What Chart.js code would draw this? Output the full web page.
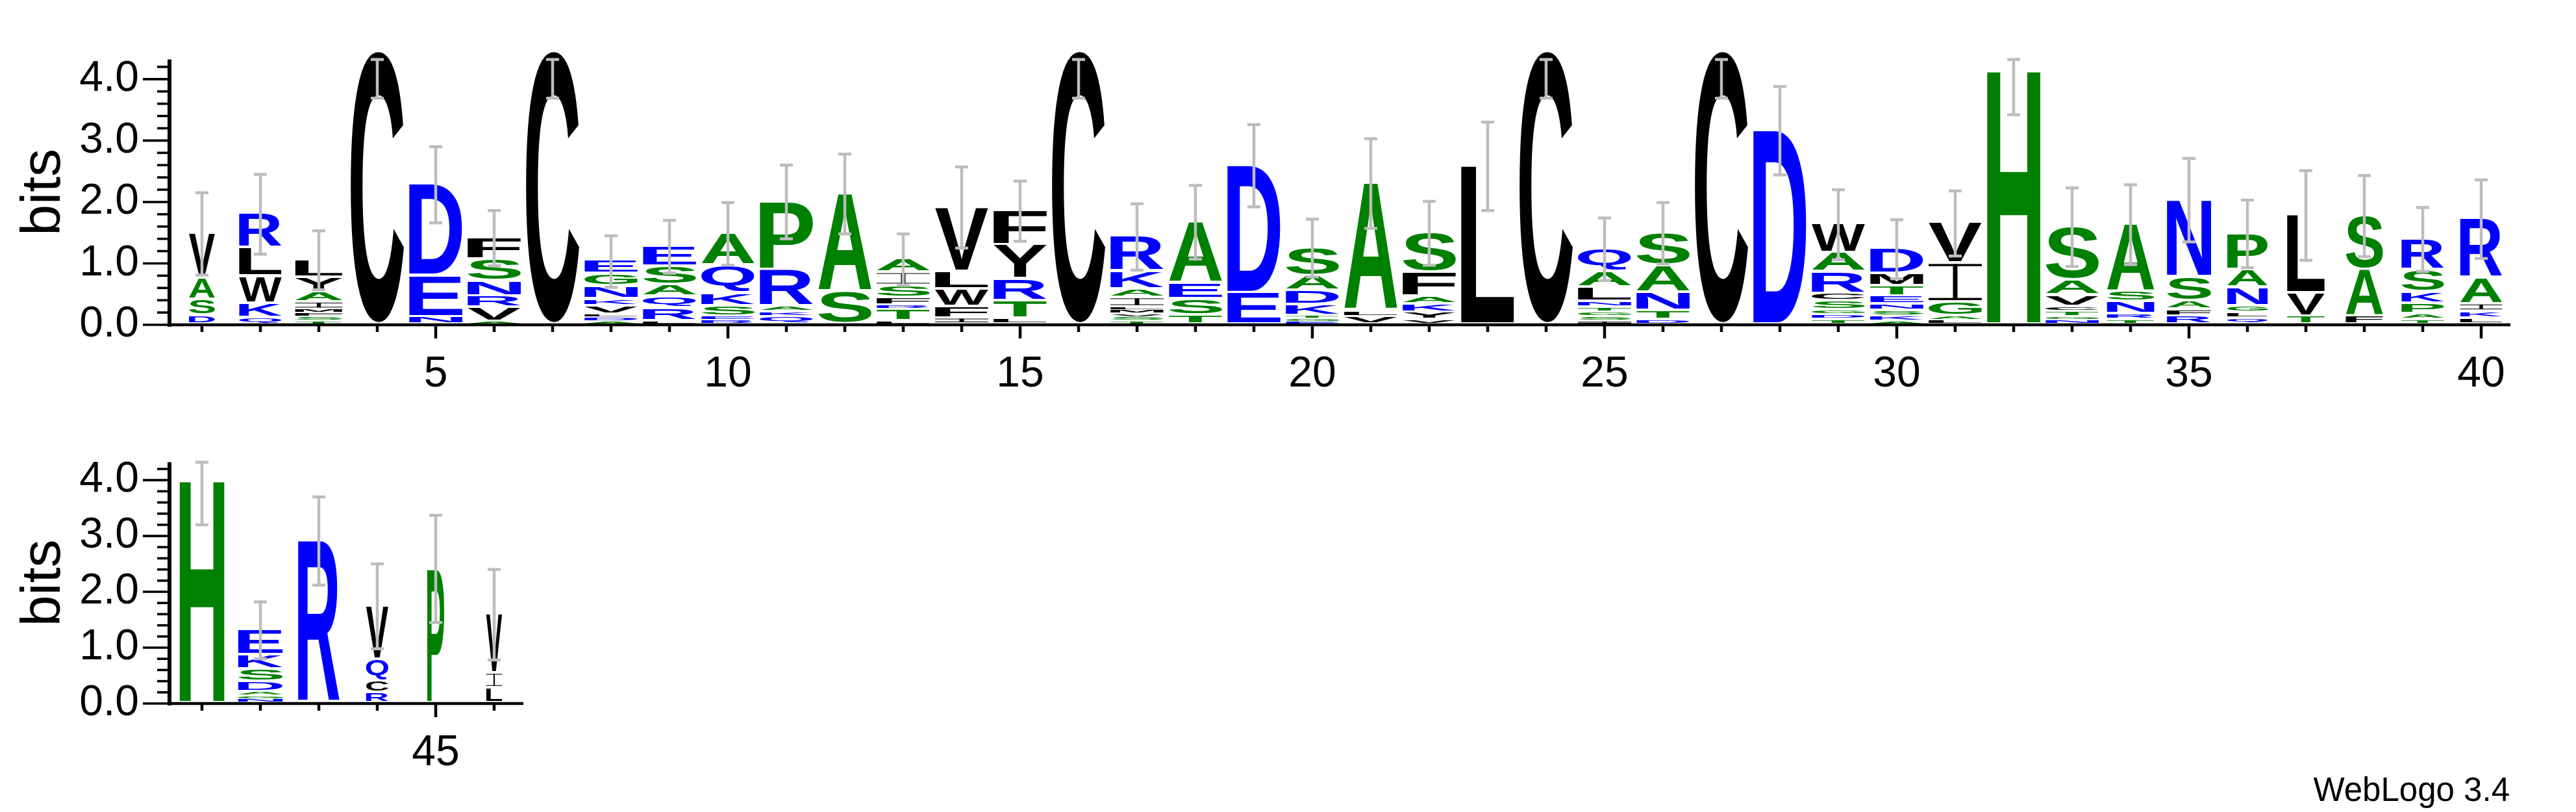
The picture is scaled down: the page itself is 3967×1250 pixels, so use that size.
<!DOCTYPE html>
<html>
<head>
<meta charset="utf-8">
<script src="https://cdn.jsdelivr.net/npm/chart.js@4.4.1/dist/chart.umd.min.js"></script>
<style>
html, body { margin: 0; padding: 0; background: #fff; }
#wrap { position: relative; width: 3967px; height: 1250px; }
canvas { position: absolute; left: 0; }
#logoTop { top: 0; }
#logoBottom { top: 620px; }
</style>
</head>
<body>
<div id="wrap">
  <canvas id="logoTop" width="3967" height="620"></canvas>
  <canvas id="logoBottom" width="3967" height="630"></canvas>
</div>
<script>
// sequence positions 1..46 (two rows: 1-40 and 41-46)
const positions = Array.from({length: 46}, (_, i) => i + 1);

// letters of each stack, bottom -> top
const letters = [
  'DSAV', 'QKWLR', 'TSFMIAYL', 'C', 'NED', 'AVRNSF', 'C', 'ADLVKNGE', 'LRQASE', 'RESKQA',
  'QKARP', 'SA', 'LTRFSIA', 'IFWLV', 'LTRYF', 'C', 'TSVMLIAKR', 'TSEA', 'ED', 'EGTKDAS',
  'VLA', 'VYKAFS', 'L', 'C', 'ISGTNLAQ', 'DTNAS', 'C', 'D', 'TDGSCRAW', 'AKSNETMD',
  'LAGIV', 'H', 'NGTCVAS', 'TRNSA', 'RFASN', 'QLGNAP', 'TVL', 'FAS', 'TAPKSR', 'LKIAR',
  'H', 'NGADSKE', 'R', 'RCQV', 'P', 'LIV'
];

// letter heights in bits, same order as letters
const heights = [
  [0.14, 0.26, 0.36, 0.72],
  [0.11, 0.23, 0.44, 0.46, 0.56],
  [0.05, 0.07, 0.06, 0.06, 0.12, 0.17, 0.23, 0.29],
  [4.45],
  [0.12, 0.67, 1.49],
  [0.04, 0.23, 0.19, 0.24, 0.36, 0.35],
  [4.45],
  [0.05, 0.06, 0.05, 0.14, 0.11, 0.21, 0.20, 0.21],
  [0.05, 0.21, 0.19, 0.19, 0.30, 0.33],
  [0.07, 0.06, 0.17, 0.21, 0.45, 0.52],
  [0.12, 0.08, 0.09, 0.60, 1.11],
  [0.53, 1.60],
  [0.05, 0.19, 0.07, 0.12, 0.20, 0.21, 0.22],
  [0.10, 0.19, 0.28, 0.29, 1.05],
  [0.09, 0.29, 0.36, 0.55, 0.56],
  [4.45],
  [0.05, 0.07, 0.05, 0.06, 0.05, 0.15, 0.14, 0.29, 0.57],
  [0.15, 0.26, 0.26, 1.00],
  [0.51, 2.08],
  [0.04, 0.05, 0.05, 0.18, 0.23, 0.24, 0.46],
  [0.12, 0.10, 2.08],
  [0.07, 0.12, 0.14, 0.12, 0.40, 0.64],
  [2.58],
  [4.45],
  [0.05, 0.08, 0.07, 0.08, 0.09, 0.23, 0.26, 0.37],
  [0.07, 0.15, 0.30, 0.44, 0.53],
  [4.45],
  [3.16],
  [0.08, 0.07, 0.08, 0.15, 0.12, 0.35, 0.31, 0.47],
  [0.04, 0.09, 0.09, 0.11, 0.13, 0.16, 0.21, 0.40],
  [0.06, 0.08, 0.22, 0.63, 0.66],
  [4.15],
  [0.07, 0.05, 0.09, 0.08, 0.18, 0.25, 0.87],
  [0.08, 0.09, 0.20, 0.16, 1.10],
  [0.13, 0.11, 0.14, 0.39, 1.26],
  [0.10, 0.09, 0.11, 0.30, 0.29, 0.59],
  [0.13, 0.38, 1.27],
  [0.13, 0.76, 0.88],
  [0.08, 0.09, 0.17, 0.18, 0.36, 0.51],
  [0.10, 0.11, 0.12, 0.42, 0.97],
  [4.00],
  [0.07, 0.06, 0.07, 0.18, 0.23, 0.25, 0.45],
  [2.91],
  [0.18, 0.21, 0.39, 0.96],
  [2.41],
  [0.27, 0.26, 1.06]
];

// error bar half-length (bits)
const errors = [
  0.67, 0.65, 0.48, 0.76, 0.62, 0.45, 0.76, 0.42, 0.43, 0.51,
  0.60, 0.65, 0.42, 0.66, 0.49, 0.76, 0.54, 0.60, 0.67, 0.47,
  0.73, 0.52, 0.72, 0.76, 0.51, 0.50, 0.76, 0.72, 0.57, 0.48,
  0.53, 0.73, 0.64, 0.65, 0.68, 0.55, 0.73, 0.66, 0.52, 0.64,
  0.80, 0.51, 0.79, 0.76, 0.96, 0.81
];

// stack width (fraction of full column)
const widthFrac = [
  0.49, 0.80, 0.89, 1, 1, 1, 1, 1, 1, 1,
  1, 1, 1, 1, 1, 1, 1, 1, 1, 1,
  1, 1, 1, 1, 1, 1, 1, 1, 1, 1,
  1, 1, 1, 0.89, 0.83, 0.76, 0.71, 0.70, 0.80, 0.79,
  0.84, 0.84, 0.78, 0.42, 0.32, 0.30
];

const yTickValues = [0, 1, 2, 3, 4];
const yTickLabels = ['0.0', '1.0', '2.0', '3.0', '4.0'];
const yMax = 4.32;

const groupColors = [
  ['RKDENQ', '#0000ff'],
  ['SGHTAP', '#008000'],
  ['YVMCLFIW', '#000000']
];
function letterColor(ch) {
  for (const [g, c] of groupColors) if (g.includes(ch)) return c;
  return '#000';
}

const FONT = '"Liberation Sans", Arial, Helvetica, sans-serif';
Chart.defaults.font.family = FONT;
Chart.defaults.color = '#000';

function drawGlyph(ctx, ch, x, y, w, h, color) {
  if (h <= 0.3 || w <= 0) return;
  ctx.save();
  ctx.fillStyle = color;
  if (ch === 'I') {
    const t = Math.max(1, h * 0.06);
    const sw = w * 0.085;
    ctx.fillRect(x, y, w, t);
    ctx.fillRect(x, y + h - t, w, t);
    ctx.fillRect(x + (w - sw) / 2, y, sw, h);
  } else {
    ctx.font = 'bold 200px ' + FONT;
    ctx.textAlign = 'left';
    ctx.textBaseline = 'alphabetic';
    const m = ctx.measureText(ch);
    const gw = m.actualBoundingBoxLeft + m.actualBoundingBoxRight;
    const gh = m.actualBoundingBoxAscent + m.actualBoundingBoxDescent;
    ctx.translate(x, y);
    ctx.scale(w / gw, h / gh);
    ctx.fillText(ch, m.actualBoundingBoxLeft, m.actualBoundingBoxAscent);
  }
  ctx.restore();
}

function line(ctx, x1, y1, x2, y2) {
  ctx.beginPath();
  ctx.moveTo(x1, y1);
  ctx.lineTo(x2, y2);
  ctx.stroke();
}

const logoPlugin = {
  id: 'logo',
  afterDatasetsDraw(chart, args, opts) {
    const ctx = chart.ctx;
    const ys = chart.scales.y;
    const meta = chart.getDatasetMeta(0);
    meta.data.forEach((bar, i) => {
      const k = opts.first + i;
      const w = bar.width * widthFrac[k];
      const x0 = bar.x - w / 2;
      let cum = 0;
      for (let j = 0; j < letters[k].length; j++) {
        const hv = heights[k][j];
        const yb = ys.getPixelForValue(cum);
        const yt = ys.getPixelForValue(cum + hv);
        const gap = Math.min(4, (yb - yt) * 0.45);
        drawGlyph(ctx, letters[k][j], x0, yt, w, yb - yt - gap, letterColor(letters[k][j]));
        cum += hv;
      }
      // error bar
      const lo = Math.max(0, cum - errors[k]);
      const hi = Math.min(yMax, cum + errors[k]);
      const yLo = ys.getPixelForValue(lo);
      const yHi = ys.getPixelForValue(hi);
      ctx.save();
      ctx.strokeStyle = '#bdbdbd';
      ctx.lineWidth = 4.5;
      line(ctx, bar.x, yLo, bar.x, yHi);
      line(ctx, bar.x - 10, yLo, bar.x + 10, yLo);
      line(ctx, bar.x - 10, yHi, bar.x + 10, yHi);
      ctx.restore();
    });
  },
  afterDraw(chart, args, opts) {
    const ctx = chart.ctx;
    const ys = chart.scales.y, xs = chart.scales.x;
    const area = chart.chartArea;
    const ax = area.left - 5;
    const y0 = ys.getPixelForValue(0);
    ctx.save();
    ctx.strokeStyle = '#000';
    ctx.lineCap = 'butt';
    // axis lines
    ctx.lineWidth = 6;
    line(ctx, ax, ys.getPixelForValue(yMax), ax, y0 + 3);
    ctx.lineWidth = 4.5;
    line(ctx, ax - 3, y0, area.right, y0);
    // y ticks: major every 1 bit, minor every 0.2
    ctx.lineWidth = 3.6;
    for (let s = 0; s <= 21; s++) {
      const v = s / 5;
      const yp = ys.getPixelForValue(v);
      const len = s % 5 === 0 ? 41 : 19;
      line(ctx, ax - len, yp, ax, yp);
    }
    // x ticks
    ctx.lineWidth = 4.5;
    xs.getLabels().forEach((p, i) => {
      const xp = xs.getPixelForValue(i);
      const len = p % 5 === 0 ? 21 : 11;
      line(ctx, xp, y0, xp, y0 + len);
    });
    if (opts.footer) {
      ctx.fillStyle = '#000';
      ctx.font = '51px ' + FONT;
      ctx.textAlign = 'right';
      ctx.textBaseline = 'alphabetic';
      ctx.fillText(opts.footer, 3865, opts.footerY);
    }
    ctx.restore();
  }
};

function makeLogo(id, first, last, layoutPad, xHeight, footer) {
  const labels = positions.slice(first, last);
  const totals = labels.map((p, i) => heights[first + i].reduce((a, b) => a + b, 0));
  return new Chart(document.getElementById(id), {
    type: 'bar',
    data: {
      labels: labels,
      datasets: [{
        data: totals,
        backgroundColor: 'rgba(0,0,0,0)',
        borderWidth: 0,
        barPercentage: 0.91,
        categoryPercentage: 1
      }]
    },
    options: {
      responsive: false,
      animation: false,
      devicePixelRatio: 1,
      layout: { padding: layoutPad },
      plugins: {
        legend: { display: false },
        tooltip: { enabled: false },
        logo: { first: first, footer: footer ? footer.text : null, footerY: footer ? footer.y : 0 }
      },
      scales: {
        x: {
          type: 'category',
          offset: true,
          grid: { display: false, drawTicks: false },
          border: { display: false },
          ticks: {
            autoSkip: false,
            maxRotation: 0,
            padding: 37,
            font: { size: 66 },
            color: '#000',
            callback: (v, i) => labels[i] % 5 === 0 ? String(labels[i]) : ''
          },
          afterFit: s => { s.height = xHeight; }
        },
        y: {
          min: 0,
          max: yMax,
          grid: { display: false, drawTicks: false },
          border: { display: false },
          afterBuildTicks: s => { s.ticks = yTickValues.map(v => ({ value: v })); },
          ticks: {
            padding: 52,
            font: { size: 66 },
            color: '#000',
            callback: (v, i) => yTickLabels[i]
          },
          title: {
            display: true,
            text: 'bits',
            font: { size: 86 },
            color: '#000',
            padding: { top: 17, bottom: 0 }
          },
          afterFit: s => { s.width = 266; }
        }
      }
    },
    plugins: [logoPlugin]
  });
}

// top row: positions 1-40, plot area x 266..3866, y(0)=500, y(4.32)=50.7
makeLogo('logoTop', 0, 40, { left: 0, right: 101, top: 50.7, bottom: 0 }, 120, null);
// bottom row: positions 41-46, plot area x 266..806, y(0)=1083
makeLogo('logoBottom', 40, 46, { left: 0, right: 3161, top: 13.7, bottom: 0 }, 167, { text: 'WebLogo 3.4', y: 613 });
</script>
</body>
</html>
